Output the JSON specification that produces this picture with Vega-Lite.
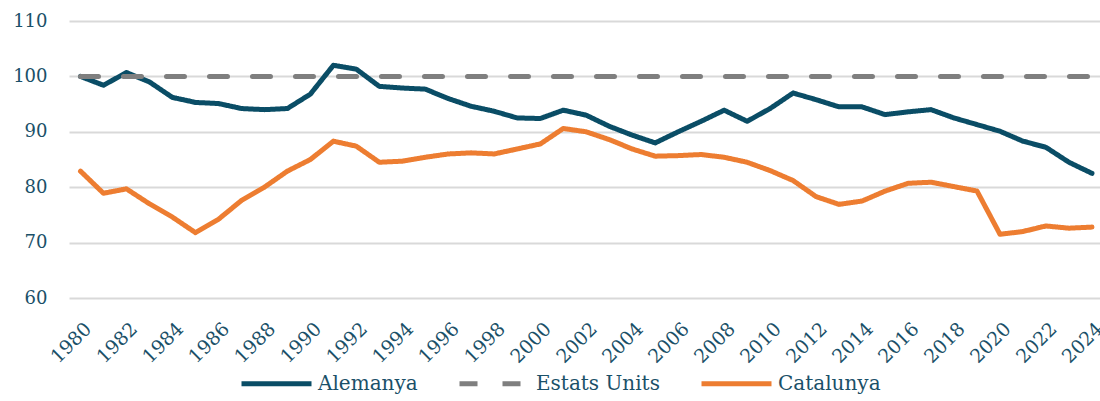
{
  "$schema": "https://vega.github.io/schema/vega-lite/v6.json",
  "autosize": "none",
  "width": 1031,
  "height": 277,
  "padding": {"left": 69, "top": 21, "right": 0, "bottom": 103},
  "background": "white",
  "config": {
    "view": {"stroke": null},
    "font": "DejaVu Serif"
  },
  "data": {
    "values": [
      {"year":1980,"series":"Alemanya","value":100.0},
      {"year":1981,"series":"Alemanya","value":98.4},
      {"year":1982,"series":"Alemanya","value":100.7},
      {"year":1983,"series":"Alemanya","value":99.0},
      {"year":1984,"series":"Alemanya","value":96.2},
      {"year":1985,"series":"Alemanya","value":95.3},
      {"year":1986,"series":"Alemanya","value":95.1},
      {"year":1987,"series":"Alemanya","value":94.2},
      {"year":1988,"series":"Alemanya","value":94.0},
      {"year":1989,"series":"Alemanya","value":94.2},
      {"year":1990,"series":"Alemanya","value":96.8},
      {"year":1991,"series":"Alemanya","value":102.0},
      {"year":1992,"series":"Alemanya","value":101.3},
      {"year":1993,"series":"Alemanya","value":98.2},
      {"year":1994,"series":"Alemanya","value":97.9},
      {"year":1995,"series":"Alemanya","value":97.7},
      {"year":1996,"series":"Alemanya","value":96.0},
      {"year":1997,"series":"Alemanya","value":94.6},
      {"year":1998,"series":"Alemanya","value":93.7},
      {"year":1999,"series":"Alemanya","value":92.5},
      {"year":2000,"series":"Alemanya","value":92.4},
      {"year":2001,"series":"Alemanya","value":93.9},
      {"year":2002,"series":"Alemanya","value":93.0},
      {"year":2003,"series":"Alemanya","value":91.0},
      {"year":2004,"series":"Alemanya","value":89.4},
      {"year":2005,"series":"Alemanya","value":88.0},
      {"year":2006,"series":"Alemanya","value":90.0},
      {"year":2007,"series":"Alemanya","value":91.9},
      {"year":2008,"series":"Alemanya","value":93.9},
      {"year":2009,"series":"Alemanya","value":91.9},
      {"year":2010,"series":"Alemanya","value":94.2},
      {"year":2011,"series":"Alemanya","value":97.0},
      {"year":2012,"series":"Alemanya","value":95.8},
      {"year":2013,"series":"Alemanya","value":94.5},
      {"year":2014,"series":"Alemanya","value":94.5},
      {"year":2015,"series":"Alemanya","value":93.1},
      {"year":2016,"series":"Alemanya","value":93.6},
      {"year":2017,"series":"Alemanya","value":94.0},
      {"year":2018,"series":"Alemanya","value":92.5},
      {"year":2019,"series":"Alemanya","value":91.3},
      {"year":2020,"series":"Alemanya","value":90.1},
      {"year":2021,"series":"Alemanya","value":88.3},
      {"year":2022,"series":"Alemanya","value":87.2},
      {"year":2023,"series":"Alemanya","value":84.5},
      {"year":2024,"series":"Alemanya","value":82.5},
      {"year":1980,"series":"Estats Units","value":100},
      {"year":1981,"series":"Estats Units","value":100},
      {"year":1982,"series":"Estats Units","value":100},
      {"year":1983,"series":"Estats Units","value":100},
      {"year":1984,"series":"Estats Units","value":100},
      {"year":1985,"series":"Estats Units","value":100},
      {"year":1986,"series":"Estats Units","value":100},
      {"year":1987,"series":"Estats Units","value":100},
      {"year":1988,"series":"Estats Units","value":100},
      {"year":1989,"series":"Estats Units","value":100},
      {"year":1990,"series":"Estats Units","value":100},
      {"year":1991,"series":"Estats Units","value":100},
      {"year":1992,"series":"Estats Units","value":100},
      {"year":1993,"series":"Estats Units","value":100},
      {"year":1994,"series":"Estats Units","value":100},
      {"year":1995,"series":"Estats Units","value":100},
      {"year":1996,"series":"Estats Units","value":100},
      {"year":1997,"series":"Estats Units","value":100},
      {"year":1998,"series":"Estats Units","value":100},
      {"year":1999,"series":"Estats Units","value":100},
      {"year":2000,"series":"Estats Units","value":100},
      {"year":2001,"series":"Estats Units","value":100},
      {"year":2002,"series":"Estats Units","value":100},
      {"year":2003,"series":"Estats Units","value":100},
      {"year":2004,"series":"Estats Units","value":100},
      {"year":2005,"series":"Estats Units","value":100},
      {"year":2006,"series":"Estats Units","value":100},
      {"year":2007,"series":"Estats Units","value":100},
      {"year":2008,"series":"Estats Units","value":100},
      {"year":2009,"series":"Estats Units","value":100},
      {"year":2010,"series":"Estats Units","value":100},
      {"year":2011,"series":"Estats Units","value":100},
      {"year":2012,"series":"Estats Units","value":100},
      {"year":2013,"series":"Estats Units","value":100},
      {"year":2014,"series":"Estats Units","value":100},
      {"year":2015,"series":"Estats Units","value":100},
      {"year":2016,"series":"Estats Units","value":100},
      {"year":2017,"series":"Estats Units","value":100},
      {"year":2018,"series":"Estats Units","value":100},
      {"year":2019,"series":"Estats Units","value":100},
      {"year":2020,"series":"Estats Units","value":100},
      {"year":2021,"series":"Estats Units","value":100},
      {"year":2022,"series":"Estats Units","value":100},
      {"year":2023,"series":"Estats Units","value":100},
      {"year":2024,"series":"Estats Units","value":100},
      {"year":1980,"series":"Catalunya","value":82.9},
      {"year":1981,"series":"Catalunya","value":78.9},
      {"year":1982,"series":"Catalunya","value":79.7},
      {"year":1983,"series":"Catalunya","value":77.0},
      {"year":1984,"series":"Catalunya","value":74.6},
      {"year":1985,"series":"Catalunya","value":71.8},
      {"year":1986,"series":"Catalunya","value":74.2},
      {"year":1987,"series":"Catalunya","value":77.6},
      {"year":1988,"series":"Catalunya","value":80.0},
      {"year":1989,"series":"Catalunya","value":82.9},
      {"year":1990,"series":"Catalunya","value":85.0},
      {"year":1991,"series":"Catalunya","value":88.3},
      {"year":1992,"series":"Catalunya","value":87.4},
      {"year":1993,"series":"Catalunya","value":84.5},
      {"year":1994,"series":"Catalunya","value":84.7},
      {"year":1995,"series":"Catalunya","value":85.4},
      {"year":1996,"series":"Catalunya","value":86.0},
      {"year":1997,"series":"Catalunya","value":86.2},
      {"year":1998,"series":"Catalunya","value":86.0},
      {"year":1999,"series":"Catalunya","value":86.9},
      {"year":2000,"series":"Catalunya","value":87.8},
      {"year":2001,"series":"Catalunya","value":90.6},
      {"year":2002,"series":"Catalunya","value":90.0},
      {"year":2003,"series":"Catalunya","value":88.6},
      {"year":2004,"series":"Catalunya","value":86.9},
      {"year":2005,"series":"Catalunya","value":85.6},
      {"year":2006,"series":"Catalunya","value":85.7},
      {"year":2007,"series":"Catalunya","value":85.9},
      {"year":2008,"series":"Catalunya","value":85.4},
      {"year":2009,"series":"Catalunya","value":84.5},
      {"year":2010,"series":"Catalunya","value":83.0},
      {"year":2011,"series":"Catalunya","value":81.2},
      {"year":2012,"series":"Catalunya","value":78.3},
      {"year":2013,"series":"Catalunya","value":76.9},
      {"year":2014,"series":"Catalunya","value":77.5},
      {"year":2015,"series":"Catalunya","value":79.3},
      {"year":2016,"series":"Catalunya","value":80.7},
      {"year":2017,"series":"Catalunya","value":80.9},
      {"year":2018,"series":"Catalunya","value":80.1},
      {"year":2019,"series":"Catalunya","value":79.3},
      {"year":2020,"series":"Catalunya","value":71.5},
      {"year":2021,"series":"Catalunya","value":72.0},
      {"year":2022,"series":"Catalunya","value":73.0},
      {"year":2023,"series":"Catalunya","value":72.6},
      {"year":2024,"series":"Catalunya","value":72.8}
    ]
  },
  "mark": {"type": "line", "strokeWidth": 5, "strokeCap": "round", "strokeJoin": "round"},
  "encoding": {
    "x": {
      "field": "year", "type": "quantitative",
      "scale": {"domain": [1979.5, 2024.35], "nice": false, "zero": false},
      "axis": {
        "title": null, "grid": false, "domain": false, "ticks": false,
        "values": [1980,1982,1984,1986,1988,1990,1992,1994,1996,1998,2000,2002,2004,2006,2008,2010,2012,2014,2016,2018,2020,2022,2024],
        "format": "d", "labelAngle": -45, "labelAlign": "right", "labelBaseline": "top",
        "labelPadding": 21, "labelOffset": 1, "labelFlush": false, "labelOverlap": false,
        "labelFont": "DejaVu Serif", "labelFontSize": 19, "labelColor": "#1A5068"
      }
    },
    "y": {
      "field": "value", "type": "quantitative",
      "scale": {"domain": [60, 110], "nice": false, "zero": false},
      "axis": {
        "title": null, "domain": false, "ticks": false, "values": [60,70,80,90,100,110],
        "grid": true, "gridColor": "#D9D9D9", "gridWidth": 2,
        "labelPadding": 22, "labelFont": "DejaVu Serif", "labelFontSize": 18, "labelColor": "#1A5068"
      }
    },
    "color": {
      "field": "series", "type": "nominal",
      "scale": {"domain": ["Alemanya", "Estats Units", "Catalunya"], "range": ["#0A4D66", "#7F7F7F", "#ED7D31"]},
      "legend": {
        "title": null, "orient": "none", "direction": "horizontal",
        "legendX": 170, "legendY": 325,
        "symbolType": "stroke", "symbolSize": 4900, "symbolStrokeWidth": 5,
        "labelFont": "DejaVu Serif", "labelFontSize": 20, "labelColor": "#1A5068",
        "labelOffset": 4, "columnPadding": 31
      }
    },
    "strokeDash": {
      "field": "series", "type": "nominal",
      "scale": {"domain": ["Alemanya", "Estats Units", "Catalunya"], "range": [[1, 0], [18, 25], [1, 0]]},
      "legend": null
    },
    "order": {"field": "year"}
  }
}
